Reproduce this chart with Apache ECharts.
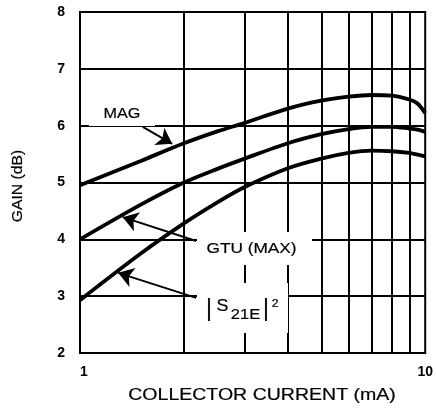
<!DOCTYPE html>
<html><head><meta charset="utf-8">
<script src="https://cdn.jsdelivr.net/npm/echarts@6/dist/echarts.min.js"></script>
<style>html,body{margin:0;padding:0;background:#fff}#c{width:436px;height:409px}</style>
</head><body><div id="c"></div>
<script>
// collector current (mA)
var current = [1, 1.5, 2, 2.5, 3, 4, 5, 6, 7, 8, 9, 9.5, 10];
var magGain = [4.95, 5.38, 5.69, 5.90, 6.05, 6.30, 6.44, 6.51, 6.54, 6.53, 6.46, 6.39, 6.22];
var gtuGain = [4.00, 4.61, 5.00, 5.24, 5.42, 5.69, 5.85, 5.94, 5.98, 5.98, 5.95, 5.93, 5.89];
var s21Gain = [2.93, 3.75, 4.28, 4.65, 4.92, 5.25, 5.42, 5.52, 5.56, 5.55, 5.52, 5.49, 5.46];
var minorX = [2, 3, 4, 5, 6, 7, 8, 9];
// annotation arrows in data coordinates [fromX, fromY, toX, toY]
var arrowMAG = [1.52, 5.98, 1.85, 5.68];
var arrowGTU = [2.17, 3.97, 1.33, 4.39];
var arrowS21 = [2.17, 2.97, 1.29, 3.41];

function pairs(xs, ys){ return xs.map(function(x,i){return [x, ys[i]];}); }
var FONT = 'Liberation Sans';
var chart = echarts.init(document.getElementById('c'));
function arrow(a){ return [{coord:[a[0],a[1]], symbol:'none'},{coord:[a[2],a[3]], symbol:'arrow'}]; }
function txt(t, x, y, size, sx, extra){
  var o = {type:'text', x:x, y:y, scaleX:sx||1, z:110, style:{text:t, x:0, y:0, align:'center', verticalAlign:'middle', fontSize:size, fontFamily:FONT, fill:'#000', stroke:'#000', lineWidth:0.2}};
  if (extra) for (var k in extra) o[k]=extra[k];
  return o;
}
function box(x,y,w,h){ return {type:'rect', z:100, shape:{x:x,y:y,width:w,height:h}, style:{fill:'#fff'}}; }
var lineStyleCurve = {color:'#000', width:3.8};
chart.setOption({
  animation:false,
  backgroundColor:'#fff',
  grid:{left:80, right:9, top:12, bottom:56, show:true, borderColor:'#000', borderWidth:2},
  xAxis:{type:'log', logBase:10, min:1, max:10,
    axisLine:{show:false}, axisTick:{show:false},
    splitLine:{show:false},
    axisLabel:{color:'#000', fontWeight:'bold', fontSize:14, fontFamily:FONT, margin:12, alignMinLabel:'left'}},
  yAxis:{type:'value', min:2, max:8, interval:1,
    axisLine:{show:false}, axisTick:{show:false},
    splitLine:{show:true, lineStyle:{color:'#000', width:2}},
    axisLabel:{color:'#000', fontWeight:'bold', fontSize:14, fontFamily:FONT, margin:15}},
  series:[
    {type:'line', data:[], silent:true,
     markLine:{silent:true, symbol:'none', label:{show:false}, lineStyle:{color:'#000', width:2, type:'solid'},
       data: minorX.map(function(v){return {xAxis:v};})}},
    {type:'line', name:'MAG', data:pairs(current, magGain), smooth:0.3, symbol:'none', lineStyle:lineStyleCurve, z:5},
    {type:'line', name:'GTU (MAX)', data:pairs(current, gtuGain), smooth:0.3, symbol:'none', lineStyle:lineStyleCurve, z:5},
    {type:'line', name:'|S21E|2', data:pairs(current, s21Gain), smooth:0.3, symbol:'none', lineStyle:lineStyleCurve, z:5,
     markLine:{silent:true, symbolSize:15, label:{show:false}, lineStyle:{color:'#000', width:2, type:'solid'},
       data:[arrow(arrowMAG), arrow(arrowGTU), arrow(arrowS21)]}}
  ],
  graphic:[
    box(89,100,66,26),
    box(197,232,115,33),
    box(197,283,91,50),
    txt('MAG', 122, 114, 15, 1.08),
    txt('GTU (MAX)', 251.5, 249, 15, 1.15),
    txt('|', 209, 310, 23, 1),
    txt('S', 222.5, 306, 17, 1.05),
    txt('21E', 245.5, 315, 15, 1.1),
    txt('|', 266, 310, 23, 1),
    txt('2', 275, 304, 11, 1.1),
    txt('COLLECTOR CURRENT (mA)', 262, 396, 16, 1.22),
    txt('GAIN (dB)', 18, 186, 15, 1.05, {rotation:Math.PI/2})
  ]
});
</script></body></html>
